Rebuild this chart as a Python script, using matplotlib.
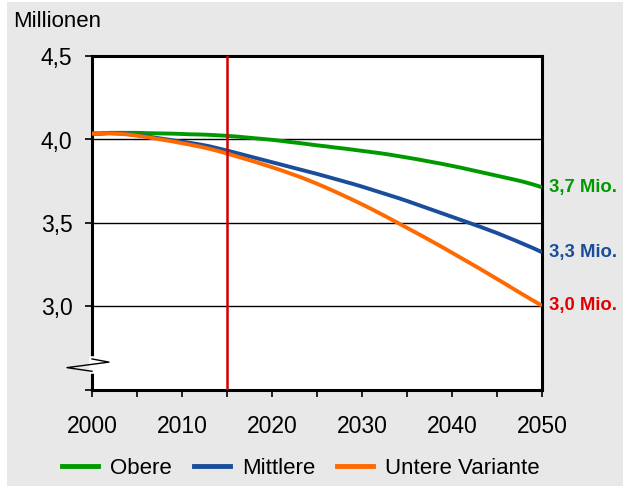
import matplotlib
matplotlib.use("Agg")
import matplotlib.pyplot as plt
import matplotlib.transforms as mtransforms
from matplotlib.patches import Rectangle
from matplotlib.lines import Line2D

plt.rcParams['font.family'] = ['Liberation Sans', 'DejaVu Sans']

years = list(range(2000, 2051))
obere = [4.035, 4.036, 4.040, 4.040, 4.040, 4.040, 4.038, 4.037, 4.036, 4.035,
         4.033, 4.031, 4.030, 4.028, 4.025, 4.022, 4.018, 4.013, 4.008, 4.003,
         3.998, 3.992, 3.985, 3.979, 3.972, 3.965, 3.959, 3.952, 3.946, 3.939,
         3.932, 3.925, 3.918, 3.910, 3.901, 3.892, 3.883, 3.873, 3.863, 3.853,
         3.842, 3.831, 3.819, 3.807, 3.795, 3.783, 3.771, 3.759, 3.746, 3.731,
         3.714]
mittlere = [4.035, 4.036, 4.038, 4.036, 4.032, 4.026, 4.019, 4.011, 4.003, 3.995,
            3.987, 3.979, 3.970, 3.960, 3.947, 3.934, 3.920, 3.906, 3.892, 3.878,
            3.864, 3.850, 3.836, 3.822, 3.808, 3.794, 3.779, 3.764, 3.749, 3.734,
            3.718, 3.701, 3.684, 3.667, 3.650, 3.632, 3.613, 3.594, 3.575, 3.556,
            3.537, 3.518, 3.499, 3.480, 3.460, 3.440, 3.418, 3.396, 3.373, 3.350,
            3.325]
untere = [4.035, 4.036, 4.037, 4.034, 4.030, 4.023, 4.015, 4.006, 3.997, 3.988,
          3.978, 3.968, 3.957, 3.945, 3.931, 3.916, 3.900, 3.884, 3.868, 3.851,
          3.834, 3.816, 3.797, 3.778, 3.757, 3.735, 3.712, 3.688, 3.663, 3.638,
          3.612, 3.585, 3.557, 3.529, 3.500, 3.471, 3.442, 3.413, 3.383, 3.353,
          3.322, 3.291, 3.260, 3.229, 3.197, 3.165, 3.133, 3.100, 3.068, 3.036,
          3.005]

series_names = ["Obere", "Mittlere", "Untere Variante"]
end_labels = ["3,7 Mio.", "3,3 Mio.", "3,0 Mio."]
y_ticks = [2.5, 3.0, 3.5, 4.0, 4.5]
y_ticklabels = ["", "3,0", "3,5", "4,0", "4,5"]
x_ticks = list(range(2000, 2051, 5))
x_ticklabels = [str(y) if y % 10 == 0 else "" for y in x_ticks]
base_year = 2015

line_colors = ["#009a00", "#1a4e9a", "#ff6a00"]
label_colors = ["#009a00", "#1a4e9a", "#e00000"]
bg = "#e8e8e8"

fig = plt.figure(figsize=(6.23, 4.86), dpi=100, facecolor="white")
fig.patches.append(Rectangle((7/623, 0), 1, 1 - 2/486, transform=fig.transFigure,
                             facecolor=bg, edgecolor="none", zorder=-10))
ax = fig.add_axes([92/623, 1 - 390/486, 450/623, 334/486])
ax.set_facecolor("white")

ax.set_xlim(2000, 2050)
ax.set_ylim(2.5, 4.5)

for yv in [3.0, 3.5, 4.0]:
    ax.axhline(yv, color="black", lw=1.0, zorder=1)

data = [obere, mittlere, untere]
for vals, c, name in zip(data, line_colors, series_names):
    ax.plot(years, vals, color=c, lw=2.8, label=name, zorder=3, solid_capstyle="butt")

ax.axvline(base_year, color="#d00000", lw=1.8, zorder=4)

for s in ax.spines.values():
    s.set_linewidth(2.2)
    s.set_color("black")

ax.set_yticks(y_ticks)
ax.set_yticklabels(y_ticklabels)
ax.set_xticks(x_ticks)
ax.set_xticklabels(x_ticklabels)
ax.tick_params(axis="both", direction="out", length=5, width=1.2, labelsize=16.5)
ax.tick_params(axis="y", pad=9)
ax.tick_params(axis="x", pad=13)

# end labels
for vals, txt, c in zip(data, end_labels, label_colors):
    ax.annotate(txt, xy=(years[-1], vals[-1]), xytext=(5, 0), textcoords="offset points",
                color=c, fontsize=13.3, fontweight="bold", va="center", ha="left",
                annotation_clip=False)

# axis break symbol
trans = mtransforms.blended_transform_factory(ax.transAxes, ax.transData)
ax.plot([0, 0], [2.612, 2.686], color="white", lw=4, transform=trans, clip_on=False, zorder=6)
bx = [0, 17/450, -25/450, 0]
by = [2.686, 2.667, 2.634, 2.612]
ax.plot(bx, by, color="black", lw=1.0, transform=trans, clip_on=False, zorder=7)

fig.text(13/623, 1 - 27/486, "Millionen", fontsize=16, ha="left", va="baseline")

handles = [Line2D([], [], color=c, lw=3.5) for c in line_colors]
fig.legend(handles, series_names, loc="center", bbox_to_anchor=(301/623, 1 - 468/486),
           ncol=3, frameon=False, fontsize=16, handlelength=1.6, handletextpad=0.55,
           columnspacing=1.0)

fig.savefig("out.png", dpi=100, facecolor=fig.get_facecolor())
